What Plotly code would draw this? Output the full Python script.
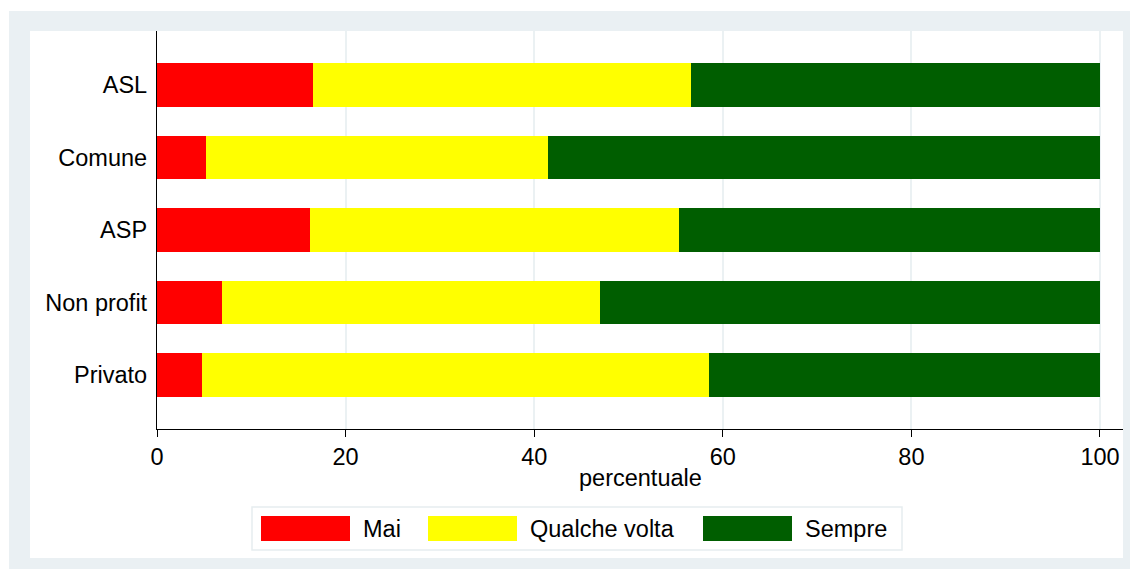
import plotly.graph_objects as go

categories = ["ASL", "Comune", "ASP", "Non profit", "Privato"]
series_names = ["Mai", "Qualche volta", "Sempre"]
mai = [16.5, 5.2, 16.2, 6.9, 4.8]
qualche_volta = [40.1, 36.3, 39.2, 40.1, 53.7]
sempre = [43.4, 58.5, 44.6, 53.0, 41.5]
x_ticks = [0, 20, 40, 60, 80, 100]
x_title = "percentuale"

colors = ["#FF0000", "#FFFF00", "#005E00"]
series_values = [mai, qualche_volta, sempre]

W, H = 1130, 569
L, R, T, B = 157, 7, 31, 140
PW, PH = W - L - R, H - T - B
FONT = "Liberation Sans, Arial, sans-serif"
FS = 23.5


def px(x):
    return (x - L) / PW


def py(y):
    return (H - B - y) / PH


fig = go.Figure()
for name, vals, col in zip(series_names, series_values, colors):
    fig.add_trace(go.Bar(
        y=categories, x=vals, name=name, orientation="h",
        marker=dict(color=col, line=dict(width=0)), width=0.6,
        showlegend=False,
    ))

shapes = [
    dict(type="rect", xref="paper", yref="paper", x0=px(9), x1=px(1140),
         y0=py(580), y1=py(11), fillcolor="#EAF0F3", line=dict(width=0), layer="below"),
    dict(type="rect", xref="paper", yref="paper", x0=px(30), x1=px(1123),
         y0=py(558), y1=py(31), fillcolor="white", line=dict(width=0), layer="below"),
    # legend box
    dict(type="rect", xref="paper", yref="paper", x0=px(252), x1=px(902),
         y0=py(550), y1=py(507), fillcolor="white",
         line=dict(color="#E6EDF0", width=1.5), layer="above"),
]
annotations = []
swatch_x = [261, 428, 703]
for name, col, sx in zip(series_names, colors, swatch_x):
    shapes.append(dict(type="rect", xref="paper", yref="paper",
                       x0=px(sx), x1=px(sx + 89), y0=py(541), y1=py(516),
                       fillcolor=col, line=dict(width=0), layer="above"))
    annotations.append(dict(xref="paper", yref="paper", x=px(sx + 100), y=py(528.5),
                            text=name, showarrow=False, xanchor="left", yanchor="middle",
                            font=dict(family=FONT, size=FS, color="black")))

annotations.append(dict(xref="paper", yref="paper", x=px(640), y=py(478),
                        text=x_title, showarrow=False, xanchor="center", yanchor="middle",
                        font=dict(family=FONT, size=FS, color="black")))

fig.update_layout(
    width=W, height=H,
    margin=dict(l=L, r=R, t=T, b=B, pad=0),
    barmode="stack",
    paper_bgcolor="white", plot_bgcolor="rgba(0,0,0,0)",
    font=dict(family=FONT, size=FS, color="black"),
    shapes=shapes, annotations=annotations,
    showlegend=False,
    xaxis=dict(range=[0, 102.44], tickvals=x_ticks, ticktext=[str(v) for v in x_ticks],
               showgrid=True, gridcolor="#EBF1F3", gridwidth=1.5,
               showline=True, linecolor="black", linewidth=1.3,
               ticks="outside", ticklen=7, tickwidth=1.3, tickcolor="black",
               zeroline=False, tickfont=dict(family=FONT, size=FS, color="black")),
    yaxis=dict(categoryorder="array", categoryarray=categories,
               range=[4.745, -0.745], showgrid=False,
               showline=True, linecolor="black", linewidth=1.3,
               ticks="", ticklabelstandoff=4, zeroline=False,
               tickfont=dict(family=FONT, size=FS, color="black")),
)

fig.write_html("out.html", config={"displayModeBar": False},
               post_script="document.body.style.margin='0';document.body.style.padding='0';")
